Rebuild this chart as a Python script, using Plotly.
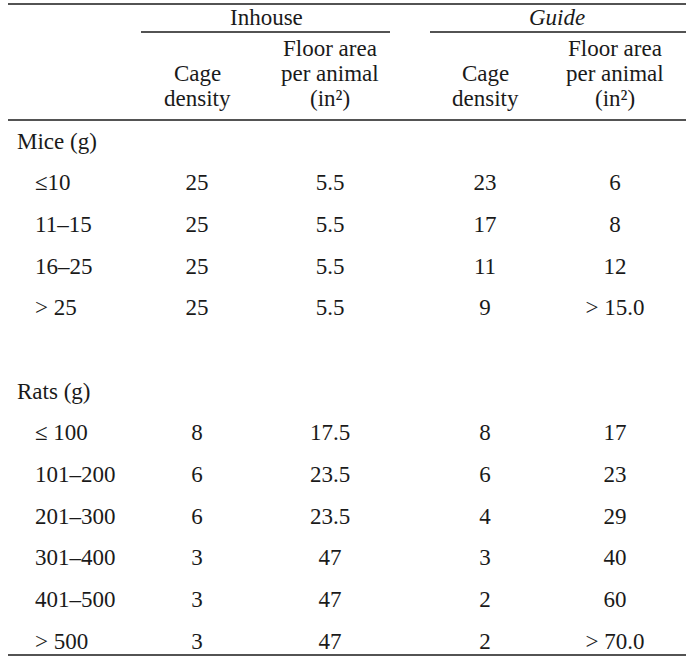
import plotly.graph_objects as go

# ---- data ----
group_names = ["Mice (g)", "Rats (g)"]
mice_weights = ["≤10", "11–15", "16–25", "> 25"]
mice_inhouse_density = ["25", "25", "25", "25"]
mice_inhouse_area = ["5.5", "5.5", "5.5", "5.5"]
mice_guide_density = ["23", "17", "11", "9"]
mice_guide_area = ["6", "8", "12", "> 15.0"]

rat_weights = ["≤ 100", "101–200", "201–300", "301–400", "401–500", "> 500"]
rat_inhouse_density = ["8", "6", "6", "3", "3", "3"]
rat_inhouse_area = ["17.5", "23.5", "23.5", "47", "47", "47"]
rat_guide_density = ["8", "6", "4", "3", "2", "2"]
rat_guide_area = ["17", "23", "29", "40", "60", "> 70.0"]

group_headers = ["Inhouse", "<i>Guide</i>"]
density_header = ["Cage", "density"]
area_header = ["Floor area", "per animal", "(in²)"]

# ---- layout constants (pixels) ----
W, H = 686, 661
FONT = "Liberation Serif"
FS = 23
COLOR = "#1a1a1a"
col_x = [197, 330, 485, 615]
label_x_group = 17
label_x_item = 35
row0 = 143
row_step = 41.67

rows_label, rows_y, rows_indent = [], [], []
cells = [[], [], [], []]
cells_y = []
r = 0
for gname, weights, cols in [
    (group_names[0], mice_weights, [mice_inhouse_density, mice_inhouse_area, mice_guide_density, mice_guide_area]),
    (group_names[1], rat_weights, [rat_inhouse_density, rat_inhouse_area, rat_guide_density, rat_guide_area]),
]:
    rows_label.append(gname); rows_y.append(row0 + r * row_step); rows_indent.append(label_x_group)
    r += 1
    for i, w in enumerate(weights):
        y = row0 + r * row_step
        rows_label.append(w); rows_y.append(y); rows_indent.append(label_x_item)
        for c in range(4):
            cells[c].append(cols[c][i])
        cells_y.append(y)
        r += 1
    r += 1  # blank row between groups

fig = go.Figure()
font = dict(family=FONT, size=FS, color=COLOR)
fig.add_trace(go.Scatter(x=rows_indent, y=rows_y, text=rows_label, mode="text",
                         textposition="middle right", textfont=font, hoverinfo="skip"))
for c in range(4):
    fig.add_trace(go.Scatter(x=[col_x[c]] * len(cells[c]), y=cells_y, text=cells[c], mode="text",
                             textposition="middle center", textfont=font, hoverinfo="skip"))

# headers
for gx, gh in zip([266, 557], group_headers):
    fig.add_annotation(x=gx, y=17, text=gh, showarrow=False, font=font, xanchor="center", yanchor="middle")
hdr_y = [48, 73, 98]
for i, cx in enumerate(col_x):
    lines = area_header if i % 2 else density_header
    ys = hdr_y[-len(lines):]
    for t, yy in zip(lines, ys):
        fig.add_annotation(x=cx, y=yy, text=t, showarrow=False, font=font, xanchor="center",
                           yanchor="middle")

# rules
line = dict(color=COLOR, width=1.7)
for y in [4, 120, 655]:
    fig.add_shape(type="line", x0=8, x1=686, y0=y, y1=y, line=line)
fig.add_shape(type="line", x0=141, x1=390, y0=32, y1=32, line=dict(color=COLOR, width=1.3))
fig.add_shape(type="line", x0=430, x1=686, y0=32, y1=32, line=dict(color=COLOR, width=1.3))

fig.update_layout(width=W, height=H, margin=dict(l=0, r=0, t=0, b=0),
                  paper_bgcolor="white", plot_bgcolor="white", showlegend=False,
                  xaxis=dict(range=[0, W], visible=False, fixedrange=True),
                  yaxis=dict(range=[H, 0], visible=False, fixedrange=True))
fig.write_html("out.html", config={"displayModeBar": False},
               post_script="document.body.style.margin='0';document.body.style.overflow='hidden';")
